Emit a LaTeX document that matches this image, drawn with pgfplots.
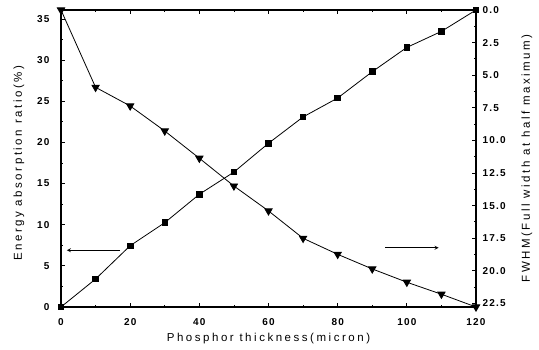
\documentclass[border=0pt]{standalone}
\usepackage{fontspec}
\setmainfont{Liberation Sans}
\usepackage{pgfplots}
\pgfplotsset{compat=1.18}
\begin{document}
\begin{tikzpicture}
\pgfplotsset{
 every axis/.append style={
  width=415pt, height=297pt, scale only axis,
  /pgf/number format/assume math mode=true,
  tick label style={font=\fontsize{10}{11}\selectfont\bfseries\addfontfeatures{LetterSpace=12}},
  label style={font=\fontsize{11.5}{13}\selectfont\addfontfeatures{LetterSpace=22}},
  axis line style={line width=1.1pt},
  major tick length=4pt, minor tick length=2pt,
  tick style={line width=0.8pt, black},
 }
}
\begin{axis}[
 xmin=0, xmax=120, ymin=0, ymax=36.1,
 xtick={0,20,...,120}, minor x tick num=1,
 ytick={0,5,...,35}, minor y tick num=1,
 ytick pos=left, xtick pos=both, xticklabel pos=lower,
 xlabel={Phosphor thickness(micron)},
 ylabel={Energy absorption ratio(\%)},
 ylabel style={xshift=-5pt},
 yticklabel style={xshift=-8pt},
 xticklabel style={yshift=-8pt},
 xlabel shift=1pt, ylabel shift=6pt,
 clip=false,
]
\coordinate (bl) at (rel axis cs:0,0);
\coordinate (tr) at (rel axis cs:1,1);
\addplot[black, line width=0.8pt, mark=square*, mark size=2.8pt] coordinates {
 (0,0) (10,3.4) (20,7.45) (30,10.25) (40,13.7) (50,16.4) (60,19.9)
 (70,23.1) (80,25.4) (90,28.6) (100,31.55) (110,33.5) (120,36.1)
};
\addplot[black, line width=0.8pt, -stealth] coordinates {(17.1,6.9) (1.7,6.9)};
\addplot[black, line width=0.8pt, -stealth] coordinates {(93.7,7.2) (109.2,7.2)};
\end{axis}
\begin{axis}[
 xmin=0, xmax=120, ymin=0, ymax=22.78, y dir=reverse,
 axis x line=none, axis y line*=right,
 ytick={0,2.5,...,22.5}, minor y tick num=1,
 yticklabel style={xshift=3pt, /pgf/number format/.cd, fixed, fixed zerofill, precision=1},
 ylabel={FWHM(Full width at half maximum)},
 ylabel shift=9pt,
 clip=false,
]
\addplot[black, line width=0.8pt, mark=triangle*, mark size=4.2pt, mark options={rotate=180}] coordinates {
 (0,0) (10,5.93) (20,7.36) (30,9.28) (40,11.37) (50,13.5) (60,15.41)
 (70,17.51) (80,18.74) (90,19.86) (100,20.88) (110,21.8) (120,22.78)
};
\end{axis}
\pgfresetboundingbox
\path[use as bounding box] ([xshift=-61pt,yshift=-43pt]bl) rectangle ([xshift=63pt,yshift=10pt]tr);
\end{tikzpicture}
\end{document}
